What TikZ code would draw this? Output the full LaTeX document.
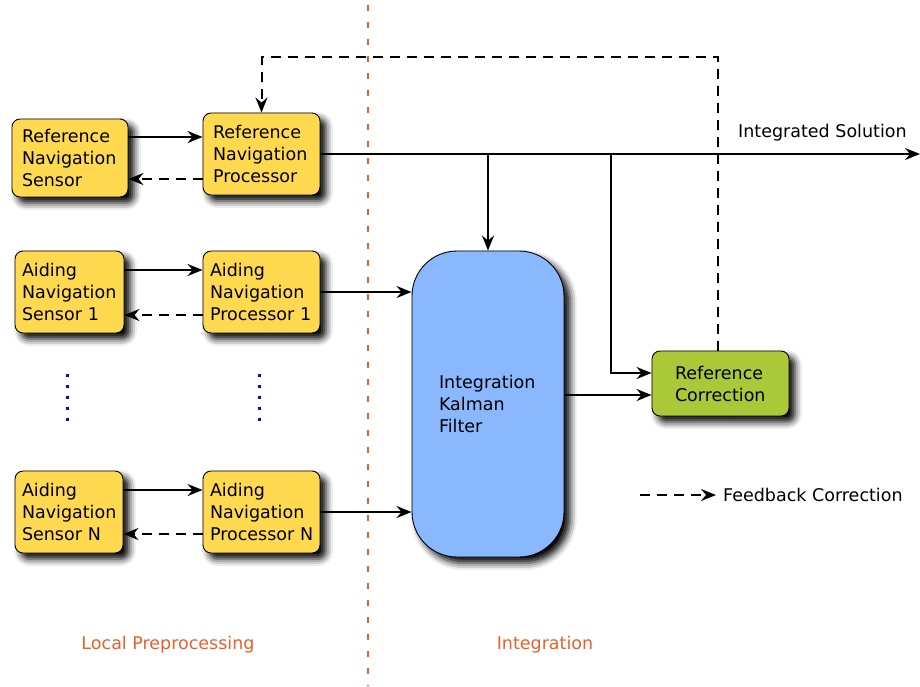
\documentclass[tikz,border=0pt]{standalone}
\usepackage{fontspec}
\setmainfont{DejaVu Sans}
\usetikzlibrary{arrows.meta,shadows.blur,calc}
\definecolor{boxyellow}{HTML}{FFDA50}
\definecolor{boxblue}{HTML}{8AB8FF}
\definecolor{boxgreen}{HTML}{AAC837}
\definecolor{divorange}{HTML}{E8602C}
\definecolor{dotblue}{HTML}{10108A}
\tikzset{
  base/.style={draw=black, line width=0.9pt, rounded corners=8pt,
    blur shadow={shadow xshift=6pt, shadow yshift=-6pt, shadow blur radius=7pt, shadow opacity=100},
    align=left, inner ysep=0pt, font=\fontsize{17.5}{22}\selectfont},
  sensor/.style={base, fill=boxyellow},
  kalman/.style={base, fill=boxblue, rounded corners=45pt},
  corr/.style={base, fill=boxgreen},
  flow/.style={line width=2pt, -{Stealth[length=15pt, width=12pt, inset=5pt]}},
  fb/.style={flow, dash pattern=on 10pt off 7pt},
  lbl/.style={font=\fontsize{17.5}{22}\selectfont, inner sep=0pt},
  divider/.style={draw=divorange, line width=2.5pt, dash pattern=on 6pt off 11pt},
  vdots/.style={draw=dotblue, line width=3pt, dash pattern=on 3pt off 8pt}
}
\begin{document}
\begin{tikzpicture}[x=1pt, y=-1pt]
\useasboundingbox (0,0) rectangle (920,686);

% column divider
\draw[divider] (368,5) -- (368,686);

% sensors and processors
\node[sensor, minimum width=116pt, minimum height=78pt, text width=96pt, inner xsep=10pt]
  (rs) at (70,158) {Reference\\Navigation\\Sensor};
\node[sensor, minimum width=117pt, minimum height=82pt, text width=97pt, inner xsep=10pt]
  (rp) at (261.5,154) {Reference\\Navigation\\Processor};
\node[sensor, minimum width=109pt, minimum height=82pt, text width=95pt, inner xsep=7pt]
  (as1) at (69.5,292) {Aiding\\Navigation\\Sensor~1};
\node[sensor, minimum width=117pt, minimum height=82pt, text width=109pt, inner xsep=4pt]
  (ap1) at (261.5,292) {\hspace*{3pt}Aiding\\\hspace*{3pt}Navigation\\\hspace*{3pt}Processor~1};
\node[sensor, minimum width=108pt, minimum height=82pt, text width=100pt, inner xsep=4pt]
  (asn) at (69,512) {\hspace*{3pt}Aiding\\\hspace*{3pt}Navigation\\\hspace*{3pt}Sensor~N};
\node[sensor, minimum width=117pt, minimum height=82pt, text width=109pt, inner xsep=4pt]
  (apn) at (261.5,512) {\hspace*{3pt}Aiding\\\hspace*{3pt}Navigation\\\hspace*{3pt}Processor~N};

% integration blocks
\node[kalman, minimum width=152pt, minimum height=306pt, text width=98pt, inner xsep=27pt]
  (km) at (488,404) {Integration\\Kalman\\Filter};
\node[corr, minimum width=137pt, minimum height=65pt, text width=91pt, inner xsep=23pt]
  (rc) at (720.5,383.5) {Reference\\Correction};

% ellipsis dots
\draw[vdots] (67,374) -- (67,422);
\draw[vdots] (259,374) -- (259,422);

% sensor <-> processor links
\draw[flow] (rs.east |- 0,137) -- (rp.west |- 0,137);
\draw[fb]   (rp.west |- 0,179) -- (rs.east |- 0,179);
\draw[flow] (as1.east |- 0,270) -- (ap1.west |- 0,270);
\draw[fb]   (ap1.west |- 0,315) -- (as1.east |- 0,315);
\draw[flow] (asn.east |- 0,490) -- (apn.west |- 0,490);
\draw[fb]   (apn.west |- 0,534) -- (asn.east |- 0,534);

% processors into the filter
\draw[flow] (ap1.east) -- (km.west |- ap1.east);
\draw[flow] (apn.east) -- (km.west |- apn.east);

% integrated solution output and branches
\coordinate (out) at (920,154);
\coordinate (tapk) at (km.north |- rp.east);
\coordinate (tapc) at (611,154);
\draw[flow] (rp.east) -- (out);
\draw[flow] (tapk) -- (km.north);
\draw[flow] (tapc) |- (rc.west |- 0,373);
\draw[flow] (km.east |- 0,395) -- (rc.west |- 0,395);
\node[lbl, anchor=west] (sol) at (738,133) {Integrated Solution};

% feedback correction loop
\draw[fb] (rc.north -| 718,0) |- (rp.north |- 0,57) -- (rp.north);

% legend
\coordinate (lega) at (640,495);
\coordinate (legb) at (716,495);
\draw[fb] (lega) -- (legb);
\node[lbl, anchor=west] (legt) at (723,495) {Feedback Correction};

% section labels
\node[lbl, text=divorange] (lp) at (168,645) {Local Preprocessing};
\node[lbl, text=divorange] (ig) at (545,645) {Integration};
\end{tikzpicture}
\end{document}
